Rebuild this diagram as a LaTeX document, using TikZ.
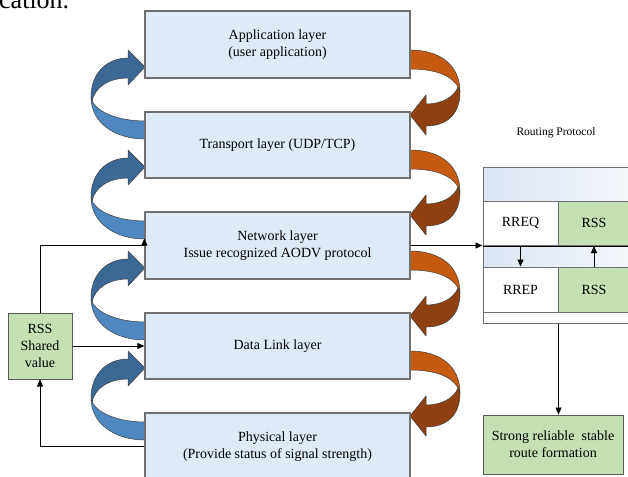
\documentclass[tikz,border=0pt]{standalone}
\usepackage{fontspec}
\setmainfont{Liberation Serif}
\usetikzlibrary{arrows.meta}
\definecolor{layerfill}{HTML}{DEEAF6}
\definecolor{boxline}{HTML}{707070}
\definecolor{rssgreen}{HTML}{C5E0B4}
\definecolor{blueback}{HTML}{4F87C1}
\definecolor{bluefront}{HTML}{3C6896}
\definecolor{orangeback}{HTML}{C55A11}
\definecolor{orangefront}{HTML}{8E4010}
\definecolor{hdrblue}{HTML}{DCE6F4}

\begin{document}
\begin{tikzpicture}[x=1pt,y=-1pt,
  txt/.style={font=\fontsize{14}{17}\selectfont},
  layer/.style={txt, draw=boxline, line width=1.3pt, fill=layerfill,
    minimum width=265pt, align=center, inner sep=0pt},
  greenbox/.style={txt, draw=boxline!80!black, line width=1pt, fill=rssgreen,
    align=center, inner sep=0pt},
  cell/.style={txt, draw=boxline, line width=1pt, minimum width=75pt,
    minimum height=44.5pt, inner sep=0pt},
  band/.style={draw=black!75, line width=0.5pt, line join=round},
  conn/.style={line width=0.8pt, -{Triangle[length=7pt,width=6pt]}},
  plainline/.style={line width=0.8pt},
  % curved arrow climbing from the lower box to the upper one (left side)
  bluearrow/.pic={
    \filldraw[band, fill=blueback]
      (0,26) .. controls (-28,26) and (-52,16) .. (-54,2)
      .. controls (-54,28) and (-30,44) .. (0,44) -- cycle;
    \filldraw[band, fill=bluefront]
      (-54,2) .. controls (-54,-22) and (-38,-37) .. (-17,-37)
      -- (-17,-45) -- (0,-28) -- (-17,-10) -- (-17,-17)
      .. controls (-36,-17) and (-50,-8) .. (-53,6) -- cycle;
  },
  % curved arrow descending from the upper box to the lower one (right side)
  orangearrow/.pic={
    \filldraw[band, fill=orangeback]
      (0,-45) .. controls (30,-45) and (50,-30) .. (50,-3)
      .. controls (46,-18) and (28,-26) .. (0,-26) -- cycle;
    \filldraw[band, fill=orangefront]
      (50,-3) .. controls (50,20) and (36,31) .. (16,31)
      -- (16,40) -- (0,20) -- (16,0) -- (16,9)
      .. controls (32,9) and (44,2) .. (48,-8) -- cycle;
  }
]
\useasboundingbox (0,0) rectangle (628,476);
\clip (0,0) rectangle (628,476);

% trailing caption text above the figure
\node[anchor=base west, font=\fontsize{26}{30}\selectfont, inner sep=0pt] (frag) at (-1,9) {cation.};

% curved arrows between neighbouring layers
\foreach \gy in {95,195,296,396} {
  \pic at (145,\gy) {bluearrow};
  \pic at (410,\gy) {orangearrow};
}

% protocol stack
\node[layer, minimum height=67pt] (app) at (277.5,44.5) {Application layer\\(user application)};
\node[layer, minimum height=66pt] (trans) at (277.5,145) {Transport layer (UDP/TCP)};
\node[layer, minimum height=67pt] (net) at (277.5,245.5) {Network layer\\Issue recognized AODV protocol};
\node[layer, minimum height=66pt] (dl) at (277.5,346) {Data Link layer};
\node[layer, minimum height=67pt] (phys) at (277.5,446.5) {Physical layer\\(Provide status of signal strength)};

% shared RSS value
\node[greenbox, minimum width=64pt, minimum height=66pt] (rss) at (40,346) {RSS\\Shared\\value};

\draw[conn] (rss.north) |- (net.west) -- ([yshift=7pt]net.west);
\draw[conn] (rss.east) -- (dl.west);
\draw[conn] (phys.west) -| (rss.south);

% routing protocol table
\node[font=\fontsize{11.5}{13}\selectfont] (rp) at (556,133) {Routing Protocol};
\node[draw=boxline, line width=1pt, fill=white, minimum width=217pt,
  minimum height=156pt, inner sep=0pt] (tbl) at (591.5,245) {};
\node[draw=boxline, line width=1pt, left color=hdrblue, right color=white,
  minimum width=217pt, minimum height=34pt, inner sep=0pt] (hdr) at (591.5,184) {};
\node[draw=boxline, line width=1pt, left color=hdrblue, right color=white,
  minimum width=217pt, minimum height=21.5pt, inner sep=0pt] (gap) at (591.5,256.25) {};
\node[cell, fill=white] (rreq) at (520.5,223.25) {RREQ};
\node[cell, fill=rssgreen, minimum width=72pt] (rssa) at (594,223.25) {RSS};
\node[cell, fill=white, minimum height=45pt] (rrep) at (520.5,289.5) {RREP};
\node[cell, fill=rssgreen, minimum width=72pt, minimum height=45pt] (rssb) at (594,289.5) {RSS};
\draw[plainline] (rreq.south west) -- ++(217,0);

\draw[conn] (net.east) -- (net.east -| tbl.west);
\draw[conn] (rreq.south) -- (rrep.north);
\draw[conn] (rssb.north) -- (rssa.south);

% resulting route
\node[greenbox, minimum width=140pt, minimum height=59pt] (strong) at (553,444.5)
  {Strong reliable\ \ stable\\route formation};
\draw[conn] (rreq.east |- tbl.south) -- (rreq.east |- strong.north);
\end{tikzpicture}
\end{document}
